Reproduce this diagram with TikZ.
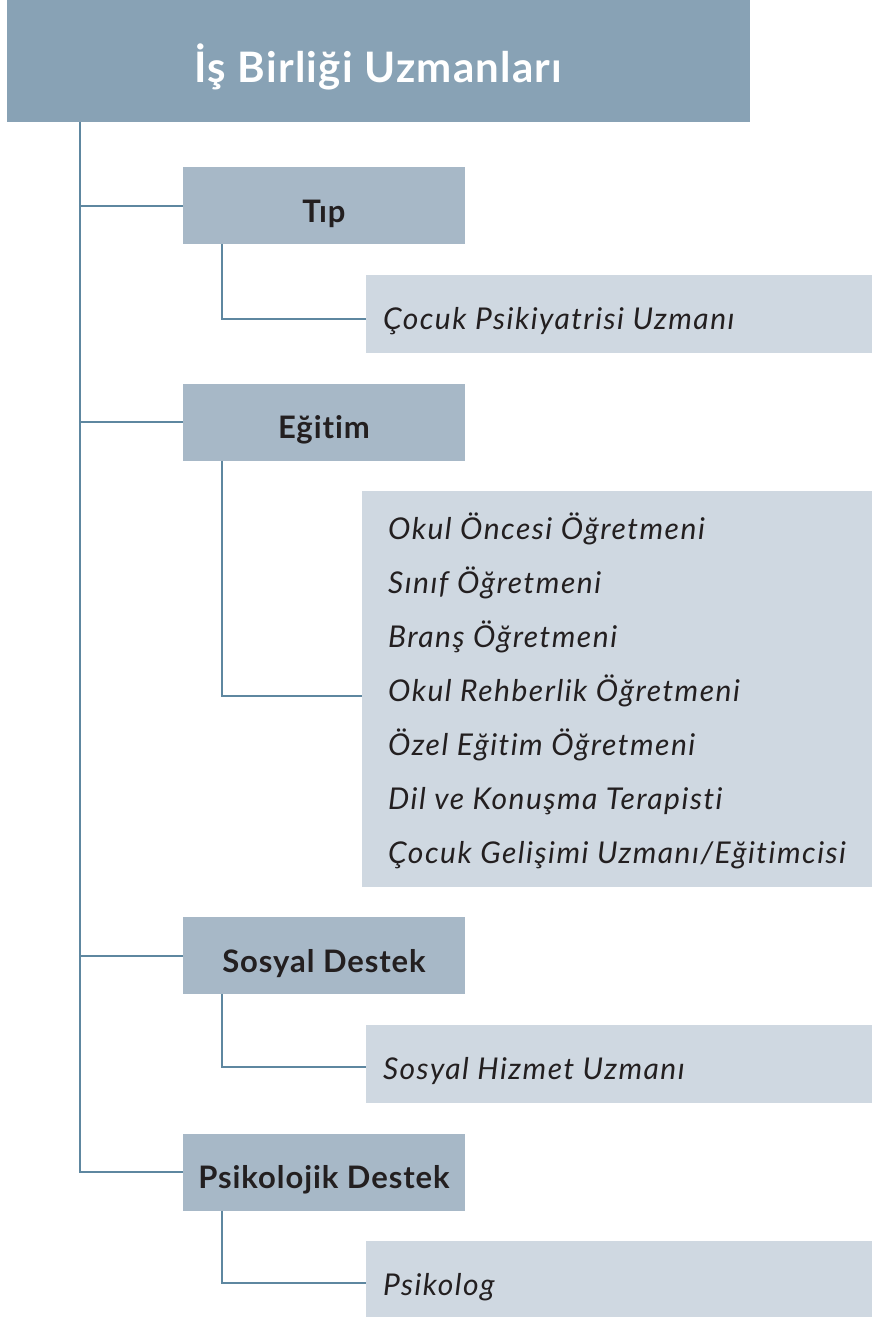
\documentclass[tikz,border=0pt]{standalone}
\usepackage{fontspec}
\setmainfont{Lato}
\newfontfamily\titlefont[LetterSpace=3,RawFeature={-liga;-dlig}]{Lato}
\newfontfamily\catfont[LetterSpace=3,RawFeature={-liga;-dlig}]{Lato}
\newfontfamily\itemfont[LetterSpace=5,RawFeature={-liga;-dlig}]{Lato}
\definecolor{titlecol}{HTML}{88A2B5}
\definecolor{catcol}{HTML}{A7B8C7}
\definecolor{itemcol}{HTML}{CFD8E1}
\definecolor{linecol}{HTML}{5E87A0}
\definecolor{textcol}{HTML}{231F20}
\begin{document}
\begin{tikzpicture}[x=1pt,y=-1pt,
  titlebox/.style={fill=titlecol,text=white,inner sep=0pt,minimum width=743pt,minimum height=122pt,
    text height=42pt,text depth=0pt,font=\fontsize{42}{44}\titlefont\bfseries},
  catbox/.style={fill=catcol,text=textcol,inner sep=0pt,minimum width=282pt,minimum height=77pt,
    text height=33pt,text depth=0pt,font=\fontsize{31}{34}\catfont\bfseries},
  itembox/.style={fill=itemcol,text=textcol,inner ysep=0pt,inner xsep=17pt,text width=472pt,align=flush left,
    minimum height=78pt,text height=31pt,text depth=0pt,font=\fontsize{30}{32}\itemfont\itshape},
  listbox/.style={fill=itemcol,inner sep=0pt,minimum width=510pt,minimum height=396pt},
  listitem/.style={text=textcol,inner sep=0pt,anchor=base west,font=\fontsize{30}{32}\itemfont\itshape},
  link/.style={draw=linecol,line width=2pt}]
\useasboundingbox (0,0) rectangle (872,1317);
% nodes
\node[titlebox] (title) at (378.5,61) {İş Birliği Uzmanları};
\node[catbox] (tip) at (324,205.5) {Tıp};
\node[catbox] (egitim) at (324,422) {Eğitim};
\node[catbox] (sosyal) at (324,955.5) {Sosyal Destek};
\node[catbox] (psiko) at (324,1172) {Psikolojik Destek};
\node[itembox] (cocuk) at (619,314) {Çocuk Psikiyatrisi Uzmanı};
\node[listbox] (eglist) at (617,689) {};
\foreach \t [count=\i from 0] in {Okul Öncesi Öğretmeni,Sınıf Öğretmeni,Branş Öğretmeni,Okul Rehberlik Öğretmeni,Özel Eğitim Öğretmeni,Dil ve Konuşma Terapisti,Çocuk Gelişimi Uzmanı/Eğitimcisi}
  \node[listitem] (e\i) at (388,539+54*\i) {\t};
\node[itembox] (hizmet) at (619,1063.5) {Sosyal Hizmet Uzmanı};
\node[itembox] (psikolog) at (619,1280) {Psikolog};
% main trunk
\coordinate (trunk) at (80,0);
\draw[link] (title.south -| trunk) |- (psiko.west);
\draw[link] (trunk |- tip.west) -- (tip.west);
\draw[link] (trunk |- egitim.west) -- (egitim.west);
\draw[link] (trunk |- sosyal.west) -- (sosyal.west);
% sub branches
\coordinate (sub) at (222,0);
\draw[link] (tip.south -| sub) |- ([yshift=-5pt]cocuk.west);
\draw[link] (egitim.south -| sub) |- ([yshift=-7pt]eglist.west);
\draw[link] (sosyal.south -| sub) |- ([yshift=-3.5pt]hizmet.west);
\draw[link] (psiko.south -| sub) |- ([yshift=-3pt]psikolog.west);
\end{tikzpicture}
\end{document}
